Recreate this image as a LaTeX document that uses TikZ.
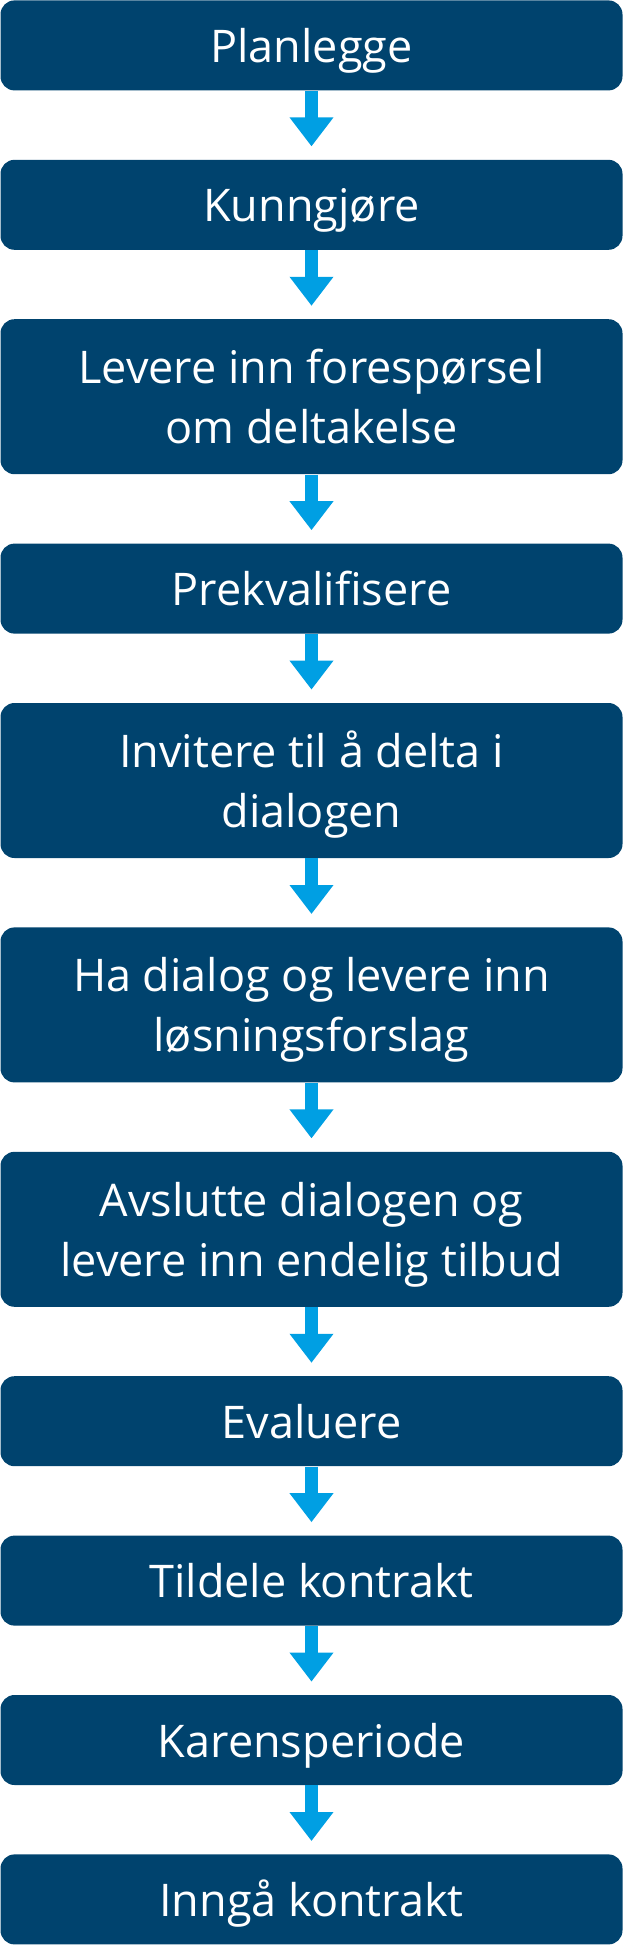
\documentclass[tikz,border=0pt]{standalone}
\usepackage{fontspec}
\setmainfont{Open Sans}
\usetikzlibrary{positioning,arrows.meta}
\definecolor{stepblue}{HTML}{00436E}
\definecolor{arrowblue}{HTML}{009FE3}

\begin{document}
\begin{tikzpicture}[
    x=0.5pt, y=0.5pt,
    phase/.style={fill=stepblue, text=white, rounded corners=7pt, minimum width=311pt,
      minimum height=45pt, inner sep=0pt, align=center,
      text height=17pt, text depth=0pt,
      font=\fontsize{22.5}{30}\selectfont},
    twoline/.style={minimum height=77.5pt, text height=47pt},
    flow/.style={draw=arrowblue, line width=6.5pt,
      -{Triangle[width=21pt,length=14.5pt]}, shorten >=6.5pt},
    node distance=34.3pt
  ]
    \useasboundingbox (0,0) rectangle (623,-1955);

    \node[phase, anchor=north] (plan) at (311.5,0) {Planlegge};
    \node[phase, below=of plan] (kunngj) {Kunngjøre};
    \node[phase, twoline, below=of kunngj] (foresp) {Levere inn forespørsel\\om deltakelse};
    \node[phase, below=of foresp] (prekval) {Prekvalifisere};
    \node[phase, twoline, below=of prekval] (inviter) {Invitere til å delta i\\dialogen};
    \node[phase, twoline, below=of inviter] (dialog) {Ha dialog og levere inn\\løsningsforslag};
    \node[phase, twoline, below=of dialog] (avslutt) {Avslutte dialogen og\\levere inn endelig tilbud};
    \node[phase, below=of avslutt] (eval) {Evaluere};
    \node[phase, below=of eval] (tildel) {Tildele kontrakt};
    \node[phase, below=of tildel] (karens) {Karensperiode};
    \node[phase, below=of karens] (inngaa) {Inngå kontrakt};

    \foreach \a/\b in {plan/kunngj, kunngj/foresp, foresp/prekval, prekval/inviter,
        inviter/dialog, dialog/avslutt, avslutt/eval, eval/tildel, tildel/karens, karens/inngaa}
      \draw[flow] (\a.south) -- (\b.north);
\end{tikzpicture}
\end{document}
